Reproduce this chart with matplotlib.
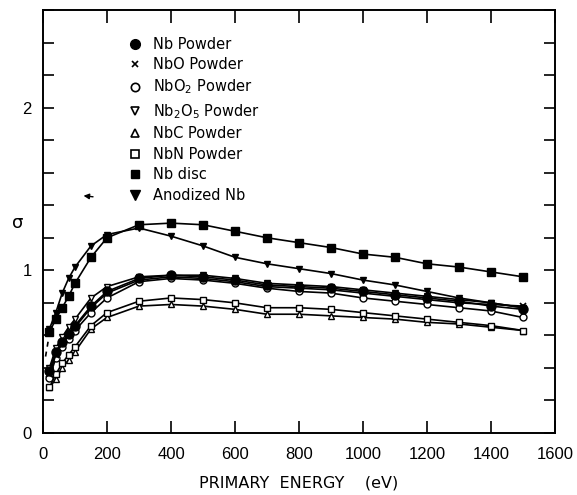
import numpy as np
import matplotlib
matplotlib.use('Agg')
import matplotlib.pyplot as plt
from matplotlib.lines import Line2D

plt.rcParams['font.family'] = ['DejaVu Sans']
plt.rcParams['mathtext.default'] = 'regular'

# primary energy (eV)
energy = [20, 40, 60, 80, 100, 150, 200, 300, 400, 500, 600, 700,
          800, 900, 1000, 1100, 1200, 1300, 1400, 1500]

# secondary electron yield sigma
nb_disc = [0.62, 0.70, 0.77, 0.84, 0.92, 1.08, 1.20, 1.28, 1.29, 1.28, 1.24, 1.20,
           1.17, 1.14, 1.10, 1.08, 1.04, 1.02, 0.99, 0.96]
anodized = [0.64, 0.74, 0.86, 0.95, 1.02, 1.15, 1.22, 1.26, 1.21, 1.15, 1.08, 1.04,
            1.01, 0.98, 0.94, 0.91, 0.87, 0.83, 0.80, 0.77]
nb_powder = [0.38, 0.50, 0.56, 0.61, 0.66, 0.78, 0.87, 0.95, 0.97, 0.96, 0.94, 0.91,
             0.90, 0.89, 0.87, 0.85, 0.83, 0.81, 0.78, 0.76]
nbo = [0.36, 0.48, 0.55, 0.60, 0.65, 0.77, 0.86, 0.94, 0.96, 0.95, 0.93, 0.90,
       0.89, 0.88, 0.86, 0.84, 0.82, 0.80, 0.79, 0.78]
nbo2 = [0.34, 0.46, 0.53, 0.58, 0.63, 0.74, 0.83, 0.93, 0.95, 0.94, 0.92, 0.89,
        0.87, 0.86, 0.83, 0.81, 0.79, 0.77, 0.75, 0.71]
nb2o5 = [0.40, 0.52, 0.59, 0.65, 0.70, 0.83, 0.90, 0.96, 0.97, 0.97, 0.95, 0.92,
         0.91, 0.90, 0.88, 0.86, 0.84, 0.82, 0.80, 0.77]
nbc = [0.28, 0.33, 0.40, 0.45, 0.50, 0.64, 0.71, 0.78, 0.79, 0.78, 0.76, 0.73,
       0.73, 0.72, 0.71, 0.70, 0.68, 0.67, 0.65, 0.63]
nbn = [0.28, 0.36, 0.43, 0.48, 0.53, 0.66, 0.74, 0.81, 0.83, 0.82, 0.80, 0.77,
       0.77, 0.76, 0.74, 0.72, 0.70, 0.68, 0.66, 0.63]

# dashed extrapolation near origin
extrap_x = [8, 20]
extrap_y = [0.47, 0.61]

labels = ['Nb Powder', 'NbO Powder', 'NbO$_2$ Powder', 'Nb$_2$O$_5$ Powder',
          'NbC Powder', 'NbN Powder', 'Nb disc', 'Anodized Nb']

fig = plt.figure(figsize=[5.77, 4.95], dpi=100)
ax = fig.add_axes([43 / 577, 1 - 433 / 495, 512 / 577, 423 / 495])

k = dict(color='k', lw=1.2)
ax.plot(energy, nbc, marker='^', ms=5, mfc='white', mec='k', mew=1, **k)
ax.plot(energy, nbn, marker='s', ms=5, mfc='white', mec='k', mew=1, **k)
ax.plot(energy, nbo2, marker='o', ms=5, mfc='white', mec='k', mew=1, **k)
ax.plot(energy, nb2o5, marker='v', ms=5, mfc='white', mec='k', mew=1, **k)
ax.plot(energy, nbo, marker='x', ms=5, mew=1.2, **k)
ax.plot(energy, nb_powder, marker='o', ms=6.5, mfc='k', mec='k', **k)
ax.plot(energy, anodized, marker='v', ms=5, mfc='k', mec='k', **k)
ax.plot(energy, nb_disc, marker='s', ms=6, mfc='k', mec='k', **k)
ax.plot(extrap_x, extrap_y, color='k', lw=1.2, ls=(0, (3, 3)))

ax.annotate('', xy=(118, 1.46), xytext=(165, 1.45),
            arrowprops=dict(arrowstyle='-|>', color='k', lw=1, mutation_scale=8))

handles = [
    Line2D([], [], ls='none', marker='o', ms=7, mfc='k', mec='k'),
    Line2D([], [], ls='none', marker='x', ms=5, mec='k', mew=1.2),
    Line2D([], [], ls='none', marker='o', ms=6, mfc='white', mec='k', mew=1.2),
    Line2D([], [], ls='none', marker='v', ms=6, mfc='white', mec='k', mew=1.2),
    Line2D([], [], ls='none', marker='^', ms=6, mfc='white', mec='k', mew=1.2),
    Line2D([], [], ls='none', marker='s', ms=6, mfc='white', mec='k', mew=1.2),
    Line2D([], [], ls='none', marker='s', ms=6, mfc='k', mec='k'),
    Line2D([], [], ls='none', marker='v', ms=7, mfc='k', mec='k'),
]
ax.legend(handles, labels, loc='upper left', bbox_to_anchor=(0.14, 0.968),
          frameon=False, fontsize=10.5, handlelength=1.0, handletextpad=0.75,
          labelspacing=0.38)

ax.set_xlim(0, 1600)
ax.set_ylim(0, 2.6)
ax.set_xticks(np.arange(0, 1601, 200))
ax.set_yticks([0, 1, 2])
ax.set_yticks(np.arange(0, 2.61, 0.2), minor=True)
ax.tick_params(which='both', direction='in', top=True, right=True)
ax.tick_params(axis='x', which='major', length=9, width=1.2, pad=10)
ax.tick_params(axis='y', which='major', length=8, width=1.2, pad=8)
ax.tick_params(axis='y', which='minor', length=8, width=1.2)
for lab in ax.get_xticklabels() + ax.get_yticklabels():
    lab.set_fontfamily('Liberation Sans')
    lab.set_fontsize(12)
for s in ax.spines.values():
    s.set_linewidth(1.4)

ax.set_xlabel('PRIMARY  ENERGY    (eV)', fontsize=11.5, labelpad=10)
ax.set_ylabel('σ', fontsize=13, rotation=0)
ax.yaxis.set_label_coords(-0.05, 0.475)

fig.savefig('out.png', dpi=100)
